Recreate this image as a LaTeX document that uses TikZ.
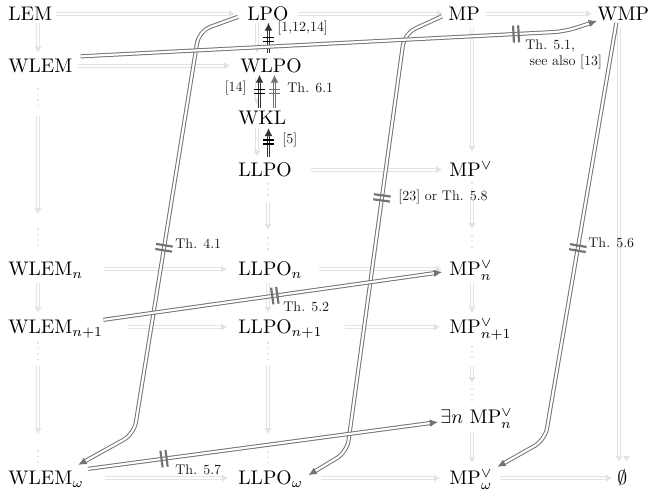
\documentclass[tikz,border=0pt]{standalone}
\usetikzlibrary{arrows.meta,decorations.markings}
\definecolor{lightc}{gray}{0.89}
\definecolor{darkc}{gray}{0.45}
\definecolor{labc}{gray}{0.1}
% labels: ordinary text shrunk to about seven points
\newcommand{\smalllab}[1]{\scalebox{0.71}{#1}}
\tikzset{
  obj/.style={inner sep=0pt, anchor=base west, text height=8pt, text depth=1pt},
  lbl/.style={inner sep=0pt, anchor=west, text=labc},
  weak/.style={draw=lightc, double=white, double distance=1.1pt, line width=0.45pt,
    -{Latex[length=3pt,width=3.8pt]}},
  hs/.style 2 args={shorten <=#1, shorten >=#2},
  ellip/.style={draw=lightc, line width=1pt, dash pattern=on 1pt off 1.8pt},
  strong/.style={draw=darkc, double=white, double distance=1.1pt, line width=0.5pt,
    rounded corners=6pt, -{Latex[length=4.2pt,width=3.8pt]}},
  blk/.style={draw=black!80, double=white, double distance=1pt, line width=0.5pt,
    -{Latex[length=4pt,width=4pt]}},
  gry/.style={blk, draw=darkc},
  notbar/.style 2 args={postaction={decorate}, decoration={markings,
    mark=at position #1 with {\draw[draw=#2, line width=1.1pt]
      (-1.3pt,-4.3pt) -- (-1.3pt,4.3pt) (1.3pt,-4.3pt) -- (1.3pt,4.3pt);}}},
  smallbar/.style 2 args={postaction={decorate}, decoration={markings,
    mark=at position #1 with {\draw[draw=#2, line width=0.8pt]
      (-1pt,-2.6pt) -- (-1pt,2.6pt) (1pt,-2.6pt) -- (1pt,2.6pt);}}}
}
\begin{document}
\begin{tikzpicture}[x=0.508pt, y=-0.508pt]
\useasboundingbox (0,0) rectangle (649,496);

% objects
\node[obj] (lem)    at (8,20.5)    {LEM};
\node[obj] (lpo)    at (247,20.5)  {LPO};
\node[obj] (mp)     at (448,20.5)  {MP};
\node[obj] (wmp)    at (597,20.5)  {WMP};
\node[obj] (wlem)   at (8,72.5)    {WLEM};
\node[obj] (wlpo)   at (240,72.5)  {WLPO};
\node[obj] (wkl)    at (238,124.5) {WKL};
\node[obj] (llpo)   at (238,176.5) {LLPO};
\node[obj] (mpv)    at (449,176.5) {MP$^{\vee}$};
\node[obj] (wlemn)  at (8,276)     {WLEM$_n$};
\node[obj] (llpon)  at (238,276)   {LLPO$_n$};
\node[obj] (mpvn)   at (449,276)   {MP$^{\vee}_{n}$};
\node[obj] (wlemnn) at (8,334)     {WLEM$_{n+1}$};
\node[obj] (llponn) at (238,334)   {LLPO$_{n+1}$};
\node[obj] (mpvnn)  at (449,334)   {MP$^{\vee}_{n+1}$};
\node[obj] (exn)    at (440,424)   {$\exists n$ MP$^{\vee}_{n}$};
\node[obj] (wlemw)  at (8,485)     {WLEM$_\omega$};
\node[obj] (llpow)  at (238,485)   {LLPO$_\omega$};
\node[obj] (mpvw)   at (449,485)   {MP$^{\vee}_{\omega}$};
\node[obj] (empty)  at (617,485)   {$\emptyset$};

% column positions
\coordinate (xL) at (38,0);
\coordinate (xB) at (257,0);
\coordinate (xC) at (268,0);
\coordinate (xM) at (472,0);
\coordinate (xW) at (619,0);
\coordinate (xV) at (626.5,0);
\coordinate (k1) at (268.5,0);
\coordinate (k2) at (259.5,0);
\coordinate (k3) at (274.5,0);

% horizontal implications
\draw[weak, hs={1.6pt}{6.1pt}]  (lem) -- (lpo);
\draw[weak, hs={4.6pt}{2.5pt}]  (lpo) -- (mp);
\draw[weak, hs={2.8pt}{2.5pt}]  (mp) -- (wmp);
\draw[weak, hs={2.5pt}{5.1pt}]  (wlem) -- (wlpo);
\draw[weak, hs={9.4pt}{3.6pt}]  (llpo) -- (mpv);
\draw[weak, hs={10.3pt}{5.6pt}] (wlemn) -- (llpon);
\draw[weak, hs={8.1pt}{3.6pt}]  (llpon) -- (mpvn);
\draw[weak, hs={12.7pt}{5.6pt}] (wlemnn) -- (llponn);
\draw[weak, hs={11.2pt}{4.6pt}] (llponn) -- (mpvnn);
\draw[weak, hs={10.7pt}{5.1pt}] (wlemw) -- (llpow);
\draw[weak, hs={9.1pt}{4.6pt}]  (llpow) -- (mpvw);
\draw[weak, hs={3.6pt}{2.5pt}]  (mpvw) -- (empty);

% vertical implications
\draw[weak, hs={0pt}{1.9pt}]     (lem.south -| xL) -- (wlem.north -| xL);
\draw[weak, hs={0pt}{1.7pt}]     (lpo.south -| xB) -- (wlpo.north -| xB);
\draw[weak, hs={1.8pt}{1.7pt}]   (wlpo.south -| xB) -- (wkl.north -| xB);
\draw[weak, hs={0.8pt}{1.9pt}]   (wkl.south -| xB) -- (llpo.north -| xB);
\draw[weak, hs={2.8pt}{4.4pt}]   (mp.south -| xM) -- (mpv.north -| xM);
\draw[weak, hs={2.8pt}{3.6pt}]   (wmp.south -| xW) -- (empty.north -| xW);
\draw[weak, hs={2.8pt}{3.6pt}]   (wmp.south -| xV) -- (empty.north -| xV);
\draw[weak, hs={2.5pt}{2.6pt}]   (wlemn.south -| xL) -- (wlemnn.north -| xL);
\draw[weak, hs={2.5pt}{2.6pt}]   (llpon.south -| xC) -- (llponn.north -| xC);
\draw[weak, hs={2.5pt}{2.6pt}]   (mpvn.south -| xM) -- (mpvnn.north -| xM);
\draw[weak, hs={2.5pt}{3.1pt}]   (exn.south -| xM) -- (mpvw.north -| xM);

% elided stretches of the columns
\coordinate (L1) at (38,88);   \coordinate (L2) at (38,110);
\coordinate (L3) at (38,116);  \coordinate (L4) at (38,214);
\coordinate (L5) at (38,228);  \coordinate (L6) at (38,247);
\coordinate (L7) at (38,342);  \coordinate (L8) at (38,360);
\coordinate (L9) at (38,366);  \coordinate (L10) at (38,434);
\coordinate (L11) at (38,450); \coordinate (L12) at (38,463);
\coordinate (C1) at (268,183); \coordinate (C2) at (268,197);
\coordinate (C3) at (268,202); \coordinate (C4) at (268,230);
\coordinate (C5) at (268,237); \coordinate (C6) at (268,250);
\coordinate (C7) at (268,342); \coordinate (C8) at (268,360);
\coordinate (C9) at (268,366); \coordinate (C10) at (268,434);
\coordinate (C11) at (268,451); \coordinate (C12) at (268,463);
\coordinate (M1) at (472,182); \coordinate (M2) at (472,195);
\coordinate (M3) at (472,201); \coordinate (M4) at (472,229);
\coordinate (M5) at (472,235); \coordinate (M6) at (472,250);
\coordinate (M7) at (472,345); \coordinate (M8) at (472,360);
\coordinate (M9) at (472,366); \coordinate (M10) at (472,383);
\coordinate (M11) at (472,388); \coordinate (M12) at (472,401);
\foreach \p in {L, C, M} {
  \draw[ellip] (\p1) -- (\p2);
  \draw[weak]  (\p3) -- (\p4);
  \draw[ellip] (\p5) -- (\p6);
  \draw[ellip] (\p7) -- (\p8);
  \draw[weak]  (\p9) -- (\p10);
  \draw[ellip] (\p11) -- (\p12);
}

% separations in the LPO column
\draw[blk, hs={1.9pt}{0pt}]     (wlpo.north -| k1) -- (lpo.south -| k1);
\path[smallbar={0.5}{black}]    (wlpo.north -| k1) -- (lpo.south -| k1);
\draw[blk]                      (wkl.north -| k2) -- (wlpo.south -| k2);
\path[smallbar={0.5}{black}]    (wkl.north -| k2) -- (wlpo.south -| k2);
\draw[gry]                      (wkl.north -| k3) -- (wlpo.south -| k3);
\path[smallbar={0.5}{darkc}]    (wkl.north -| k3) -- (wlpo.south -| k3);
\draw[blk, hs={1.9pt}{0.7pt}]   (llpo.north -| k1) -- (wkl.south -| k1);
\path[smallbar={0.55}{black}]   (llpo.north -| k1) -- (wkl.south -| k1);

\node[lbl] (r1)  at (277,28)  {\smalllab{[1,12,14]}};
\node[lbl, anchor=east] (r2) at (247,88) {\smalllab{[14]}};
\node[lbl] (r3)  at (287,88)  {\smalllab{Th. 6.1}};
\node[lbl] (r4)  at (282,140) {\smalllab{[5]}};

% separations across the diagram
\coordinate (a41) at (199,31);
\coordinate (b41) at (134,434);
\draw[strong, hs={4.9pt}{0pt}] (lpo.west) -- (a41) -- (b41) -- ([shift={(-3pt,2pt)}]wlemw.north east);
\path[notbar={0.538}{darkc}] (a41) -- (b41);
\node[lbl] (t41) at (175,244) {\smalllab{Th. 4.1}};

\coordinate (a58) at (404.5,33.4);
\coordinate (b58) at (347,452);
\draw[strong, hs={3.4pt}{0pt}] (mp.west) -- (a58) -- (b58) -- ([shift={(2.5pt,1.5pt)}]llpow.east);
\path[notbar={0.393}{darkc}] (a58) -- (b58);
\node[lbl] (t58) at (398,197) {\smalllab{[23] or Th. 5.8}};

\coordinate (b56) at (545,440);
\draw[strong] ([xshift=-3.5pt]wmp.south) -- (b56) -- ([shift={(2.3pt,1pt)}]mpvw.north east);
\path[notbar={0.54}{darkc}] ([xshift=-3.5pt]wmp.south) -- (b56);
\node[lbl] (t56) at (588,243) {\smalllab{Th. 5.6}};

\coordinate (a51) at (565,31.5);
\draw[strong] ([xshift=4pt]wlem.north east) -- (a51) -- ([yshift=1pt]wmp.south west);
\path[notbar={0.899}{darkc}] ([xshift=4pt]wlem.north east) -- (a51);
\node[lbl, anchor=north west] (t51) at (525,37)
  {\smalllab{\begin{tabular}{@{}l@{}}Th. 5.1,\\\hspace*{3pt}see also [13]\end{tabular}}};

\draw[strong] ([yshift=-1pt]wlemnn.north east) -- ([shift={(-3.5pt,-1.5pt)}]mpvn.west);
\path[notbar={0.506}{darkc}] ([yshift=-1pt]wlemnn.north east) -- ([shift={(-3.5pt,-1.5pt)}]mpvn.west);
\node[lbl] (t52) at (283,307) {\smalllab{Th. 5.2}};

\draw[strong] ([xshift=2pt]wlemw.north east) -- ([shift={(-1pt,-2.5pt)}]exn.west);
\path[notbar={0.217}{darkc}] ([xshift=2pt]wlemw.north east) -- ([shift={(-1pt,-2.5pt)}]exn.west);
\node[lbl] (t57) at (175,470) {\smalllab{Th. 5.7}};
\end{tikzpicture}
\end{document}
